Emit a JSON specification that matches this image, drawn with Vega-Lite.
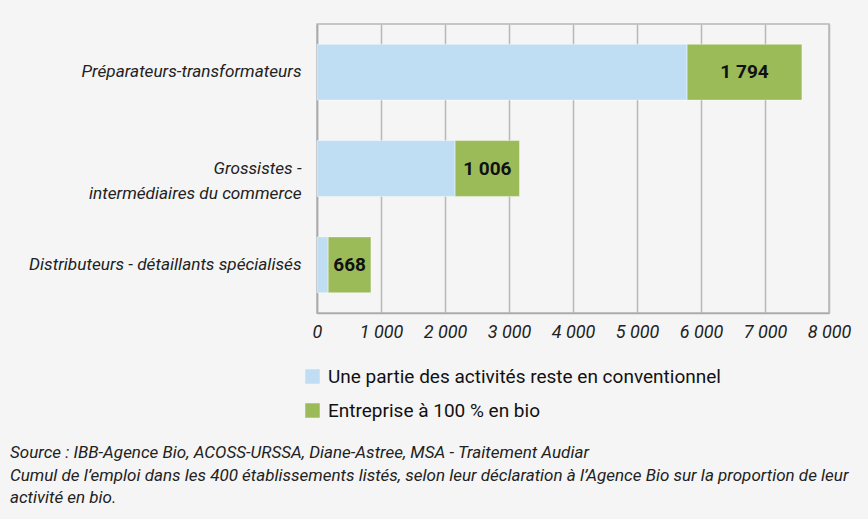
{
  "$schema": "https://vega.github.io/schema/vega-lite/v6.json",
  "width": 512,
  "height": 289,
  "autosize": "none",
  "padding": {"left": 317, "top": 24, "right": 39, "bottom": 206},
  "background": "#f5f5f5",
  "config": {
    "locale": {"number": {"decimal": ",", "thousands": " ", "grouping": [3], "currency": ["", " €"]}},
    "font": "Roboto",
    "view": {"stroke": "#b8b8b8", "strokeWidth": 1.5}
  },
  "title": {
    "text": [
      "Source : IBB-Agence Bio, ACOSS-URSSA, Diane-Astree, MSA - Traitement Audiar",
      "Cumul de l’emploi dans les 400 établissements listés, selon leur déclaration à l’Agence Bio sur la proportion de leur",
      "activité en bio."
    ],
    "orient": "bottom",
    "anchor": "start",
    "frame": "group",
    "dx": -307,
    "offset": 24,
    "baseline": "top",
    "fontSize": 17,
    "fontStyle": "italic",
    "fontWeight": "normal",
    "lineHeight": 22.5,
    "color": "#222"
  },
  "data": {
    "values": [
      {"cat": "Préparateurs-transformateurs", "type": "Une partie des activités reste en conventionnel", "value": 5783},
      {"cat": "Préparateurs-transformateurs", "type": "Entreprise à 100 % en bio", "value": 1794},
      {"cat": "Grossistes - intermédiaires du commerce", "type": "Une partie des activités reste en conventionnel", "value": 2158},
      {"cat": "Grossistes - intermédiaires du commerce", "type": "Entreprise à 100 % en bio", "value": 1006},
      {"cat": "Distributeurs - détaillants spécialisés", "type": "Une partie des activités reste en conventionnel", "value": 175},
      {"cat": "Distributeurs - détaillants spécialisés", "type": "Entreprise à 100 % en bio", "value": 668}
    ]
  },
  "transform": [
    {"stack": "value", "groupby": ["cat"], "sort": [{"field": "type", "order": "descending"}], "as": ["v0", "v1"]},
    {"calculate": "(datum.v0 + datum.v1) / 2", "as": "mid"}
  ],
  "encoding": {
    "y": {
      "field": "cat",
      "type": "nominal",
      "sort": ["Préparateurs-transformateurs", "Grossistes - intermédiaires du commerce", "Distributeurs - détaillants spécialisés"],
      "scale": {"paddingInner": 0.42, "paddingOuter": 0.21},
      "axis": {
        "title": null,
        "labelFontSize": 17.2,
        "labelFontStyle": "italic",
        "labelColor": "#222",
        "ticks": false,
        "labelPadding": 16,
        "domainColor": "#aaaaaa",
        "domainWidth": 1.5,
        "labelLimit": 400,
        "labelLineHeight": 25,
        "labelExpr": "datum.value == 'Grossistes - intermédiaires du commerce' ? ['Grossistes -', 'intermédiaires du commerce'] : datum.value"
      }
    }
  },
  "layer": [
    {
      "mark": {"type": "bar", "stroke": "#ffffff", "strokeOpacity": 0.4, "strokeWidth": 1},
      "encoding": {
        "x": {
          "field": "v0",
          "type": "quantitative",
          "scale": {"domain": [0, 8000], "nice": false},
          "axis": {
            "title": null,
            "values": [0, 1000, 2000, 3000, 4000, 5000, 6000, 7000, 8000],
            "format": ",d",
            "labelFontSize": 18,
            "labelFontStyle": "italic",
            "labelColor": "#222",
            "ticks": false,
            "labelPadding": 10,
            "labelFlush": false,
            "grid": true,
            "gridColor": "#b8b8b8",
            "gridWidth": 1.5,
            "domainColor": "#aaaaaa",
            "domainWidth": 1.5
          }
        },
        "x2": {"field": "v1"},
        "color": {
          "field": "type",
          "type": "nominal",
          "scale": {
            "domain": ["Une partie des activités reste en conventionnel", "Entreprise à 100 % en bio"],
            "range": ["#bfdef4", "#9bbb59"]
          },
          "legend": {
            "orient": "none",
            "legendX": -14,
            "legendY": 343,
            "title": null,
            "symbolType": "square",
            "symbolSize": 210,
            "symbolStrokeWidth": 0,
            "labelFontSize": 19,
            "labelColor": "#111111",
            "labelOffset": 6,
            "rowPadding": 14,
            "labelLimit": 500
          }
        }
      }
    },
    {
      "transform": [{"filter": "datum.type == 'Entreprise à 100 % en bio'"}],
      "mark": {"type": "text", "fontSize": 19, "fontWeight": "bold", "color": "#111111", "align": "center", "baseline": "middle"},
      "encoding": {
        "x": {"field": "mid", "type": "quantitative"},
        "text": {"field": "value", "type": "quantitative", "format": ",d"}
      }
    }
  ]
}
